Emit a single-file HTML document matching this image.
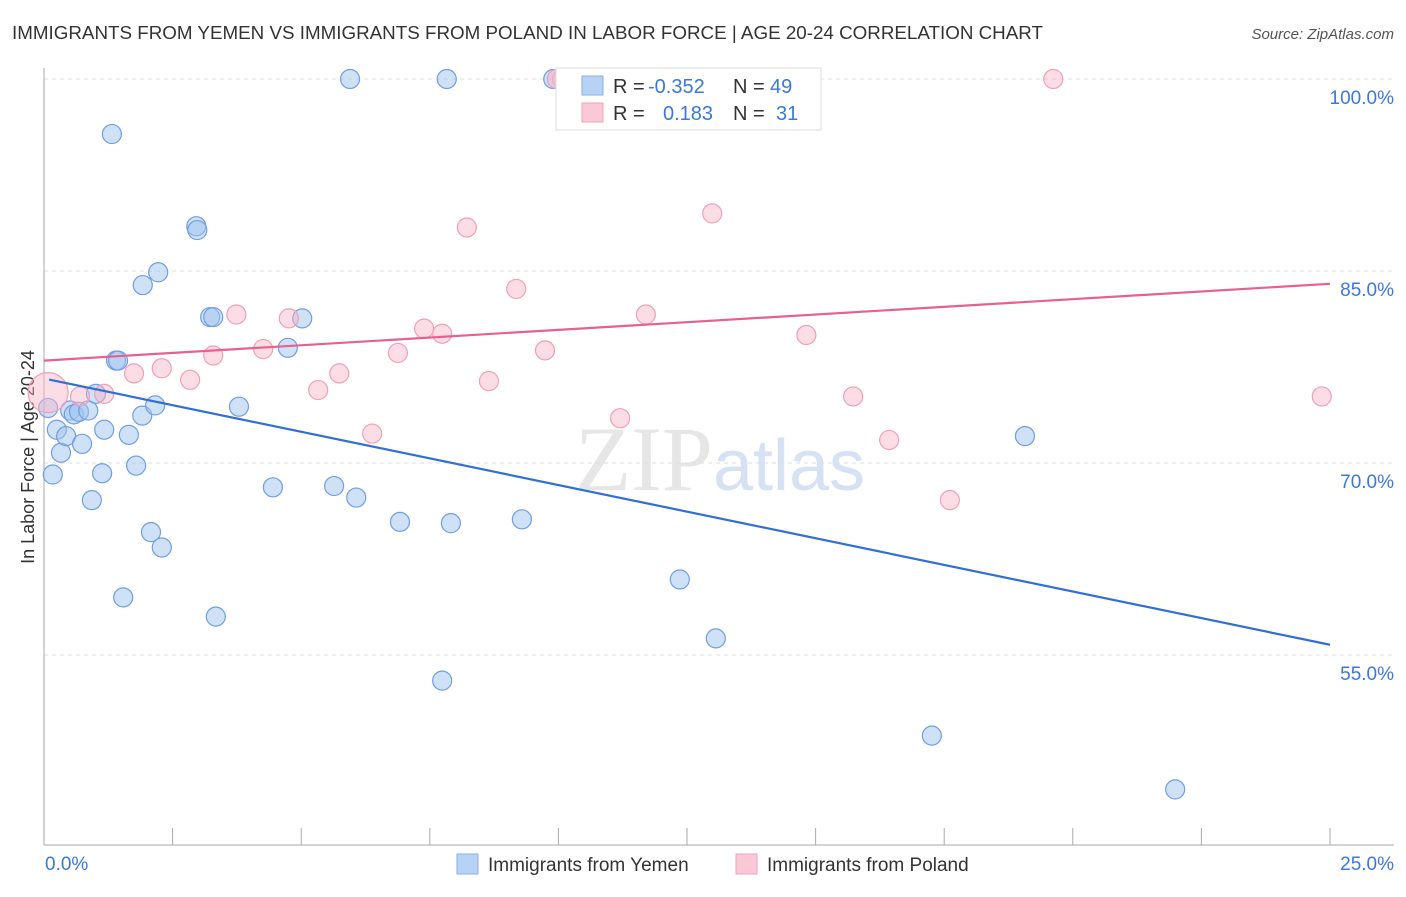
<!DOCTYPE html>
<html><head><meta charset="utf-8"><style>
body{margin:0;background:#fff;font-family:"Liberation Sans",sans-serif}
</style></head><body>
<svg width="1406" height="892" xmlns="http://www.w3.org/2000/svg">
<text x="12" y="39" font-size="18.5" fill="#333" textLength="1031" lengthAdjust="spacingAndGlyphs">IMMIGRANTS FROM YEMEN VS IMMIGRANTS FROM POLAND IN LABOR FORCE | AGE 20-24 CORRELATION CHART</text>
<text x="1394" y="39" font-size="15" fill="#555" font-style="italic" text-anchor="end">Source: ZipAtlas.com</text>
<text x="720" y="490" font-size="92" fill="#e6e6e6" text-anchor="middle" font-family="Liberation Serif,serif">ZIP<tspan fill="#d6e2f4" font-family="Liberation Sans,sans-serif" font-size="72">atlas</tspan></text>
<g id="grid"></g>
<g id="axes"></g>
<text transform="translate(34,457) rotate(-90)" font-size="18" fill="#333" text-anchor="middle">In Labor Force | Age 20-24</text>
<text x="45" y="870" font-size="19" fill="#3b78d8">0.0%</text>
<text x="1394" y="870" font-size="19" fill="#3b78d8" text-anchor="end">25.0%</text>
<g id="pts"></g>
<g id="lines"></g>
<g>
<rect x="556" y="68" width="265" height="62" fill="#fff" stroke="#ddd"/>
<rect x="582" y="76" width="21" height="19" fill="#b8d2f5" stroke="#88aee6"/>
<rect x="582" y="103" width="21" height="19" fill="#fbc8d7" stroke="#f0a0b8"/>
<text x="613" y="93" font-size="20" fill="#333">R = <tspan x="648" fill="#3b78d8">-0.352</tspan><tspan x="733">N = </tspan><tspan x="770" fill="#3b78d8">49</tspan></text>
<text x="613" y="120" font-size="20" fill="#333">R = <tspan x="663" fill="#3b78d8">0.183</tspan><tspan x="733">N = </tspan><tspan x="776" fill="#3b78d8">31</tspan></text>
</g>
<g>
<rect x="457" y="854" width="21" height="20" fill="#b8d2f5" stroke="#88aee6"/>
<text x="488" y="871" font-size="19" fill="#333">Immigrants from Yemen</text>
<rect x="736" y="854" width="21" height="20" fill="#fbc8d7" stroke="#f0a0b8"/>
<text x="767" y="871" font-size="19" fill="#333">Immigrants from Poland</text>
</g>
</svg>
<script>
const yTicks=[100,85,70,55];
const yTickLabels=["100.0%","85.0%","70.0%","55.0%"];
const blueX=[0.08,0.17,0.25,0.33,0.43,0.51,0.58,0.68,0.74,0.86,0.93,1.01,1.13,1.17,1.32,1.40,1.44,1.54,1.65,1.79,1.91,1.92,2.08,2.16,2.22,2.29,2.96,2.98,3.23,3.29,3.34,3.79,4.45,4.74,5.02,5.64,5.95,6.07,6.92,7.74,7.83,7.91,9.29,9.90,12.36,13.06,17.26,19.07,21.99];
const blueY=[74.3,69.1,72.6,70.8,72.1,74.1,73.8,74.0,71.5,74.1,67.1,75.4,69.2,72.6,95.7,78.0,78.0,59.5,72.2,69.8,73.7,83.9,64.6,74.5,84.9,63.4,88.5,88.2,81.4,81.4,58.0,74.4,68.1,79.0,81.3,68.2,100,67.3,65.4,53.0,100,65.3,65.6,100,60.9,56.3,48.7,72.1,44.5];
const pinkX=[0.08,0.70,1.17,1.75,2.29,2.84,3.29,3.74,4.26,4.76,5.33,5.74,6.38,6.88,7.39,7.74,8.22,8.65,9.18,9.74,10.07,9.97,11.20,11.70,12.99,14.82,15.73,16.43,17.61,19.62,24.84];
const pinkY=[75.5,75.2,75.4,77.0,77.4,76.5,78.4,81.6,78.9,81.3,75.7,77.0,72.3,78.6,80.5,80.1,88.4,76.4,83.6,78.8,100,100,73.5,81.6,89.5,80.0,75.2,71.8,67.1,100,75.2];
const blueTrend=[76.6,55.8];
const pinkTrend=[78.0,84.0];
const NS="http://www.w3.org/2000/svg";
const xs=v=>44+v/25*1286;
const ys=v=>79+(100-v)*12.8;
function mk(t,a,p){const e=document.createElementNS(NS,t);for(const k in a)e.setAttribute(k,a[k]);p.appendChild(e);return e;}
const grid=document.getElementById('grid');
yTicks.forEach((t,i)=>{
 const l=mk('line',{x1:44,x2:1394,y1:ys(t),y2:ys(t),stroke:'#ddd','stroke-dasharray':'4,4'},grid);
 
 
 const tx=mk('text',{x:1394,y:ys(t)+25,'font-size':19,fill:'#3b78d8','text-anchor':'end'},grid);
 tx.textContent=yTickLabels[i];
 
 
});
const ax=document.getElementById('axes');
mk('line',{x1:44,x2:44,y1:68,y2:845,stroke:'#aaa'},ax);
mk('line',{x1:44,x2:1394,y1:845,y2:845,stroke:'#aaa'},ax);
for(let i=1;i<=10;i++){const t=mk('line',{x1:xs(i*2.5),x2:xs(i*2.5),y1:828,y2:845,stroke:'#aaa'},ax);}
const pts=document.getElementById('pts');
blueX.forEach((x,i)=>{
 const c=mk('circle',{cx:xs(x),cy:ys(blueY[i]),r:9.5,fill:'rgba(160,196,240,0.5)',stroke:'#6f9fe0','stroke-width':1.2},pts);
 
 
});
pinkX.forEach((x,i)=>{
 const c=mk('circle',{cx:xs(x),cy:ys(pinkY[i]),r:i==0?20:9.5,fill:'rgba(248,180,200,0.45)',stroke:'#eea0b8','stroke-width':1.2},pts);
 
 
});
const ln=document.getElementById('lines');
const b=mk('line',{x1:xs(0.1),y1:ys(blueTrend[0]+(blueTrend[1]-blueTrend[0])*0.004),x2:xs(25),y2:ys(blueTrend[1]),stroke:'#2f6fd6','stroke-width':2.2},ln);


const p=mk('line',{x1:xs(0),y1:ys(pinkTrend[0]),x2:xs(25),y2:ys(pinkTrend[1]),stroke:'#e8608e','stroke-width':2.2},ln);


</script>
</body></html>
